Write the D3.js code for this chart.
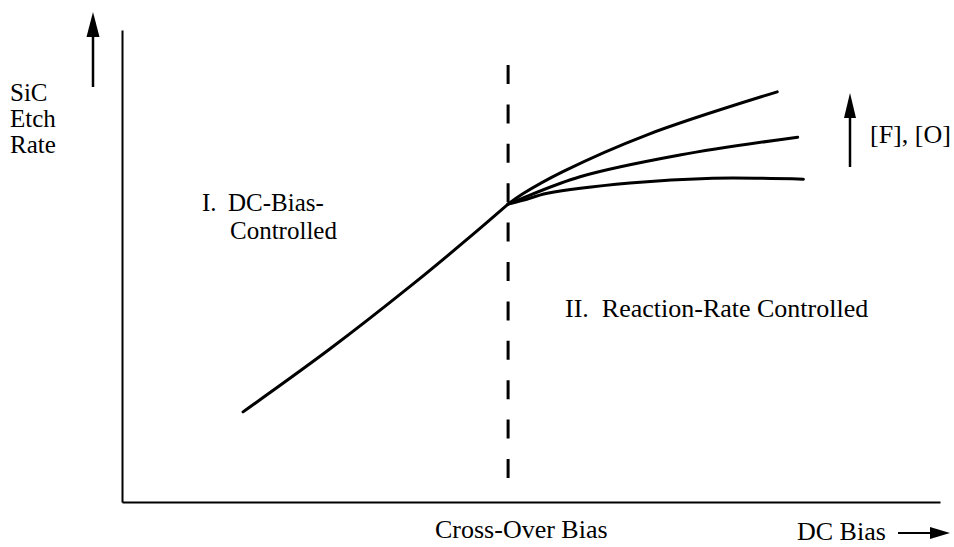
<!DOCTYPE html>
<html>
<head>
<meta charset="utf-8">
<script src="https://cdn.jsdelivr.net/npm/d3@7"></script>
<style>
  html, body { margin: 0; padding: 0; background: #fff; }
  text { font-family: "Liberation Serif", "Times New Roman", serif; fill: #000; }
</style>
</head>
<body>
<svg id="chart" width="954" height="547"></svg>
<script>
// ---- data (abstract units: DC bias 0..100, etch rate 0..100) ----
const crossOverBias = 47.2;
const dcBiasRegionI = [14.8, 25.4, 35.6, 42.5, 47.2];
const etchRegionI   = [19.1, 32.4, 46.2, 56.1, 63.1];
const dcBiasHigh = [47.2, 49.0, 53.9, 64.2, 80.1];
const etchHigh   = [63.1, 65.3, 70.0, 77.8, 86.9];
const dcBiasMid  = [47.2, 49.0, 56.0, 68.2, 82.6];
const etchMid    = [63.1, 64.4, 68.9, 73.5, 77.3];
const dcBiasLow  = [47.2, 49.0, 52.0, 62.1, 72.2, 83.3];
const etchLow    = [63.1, 63.9, 65.4, 67.6, 68.6, 68.4];
const yLabelLines = ["SiC", "Etch", "Rate"];

const svg = d3.select("#chart");
const x = d3.scaleLinear().domain([0, 100]).range([122, 940]);
const y = d3.scaleLinear().domain([0, 100]).range([502, 30]);

// axes (no ticks)
svg.append("g").attr("transform", `translate(0,${y(0)})`)
  .call(d3.axisBottom(x).tickValues([]).tickSizeOuter(0));
svg.append("g").attr("transform", `translate(${x(0)},0)`)
  .call(d3.axisLeft(y).tickValues([]).tickSizeOuter(0));
svg.selectAll(".domain").attr("stroke", "#000").attr("stroke-width", 2);

// dashed cross-over line
svg.append("line")
  .attr("x1", x(crossOverBias)).attr("x2", x(crossOverBias))
  .attr("y1", 65).attr("y2", 478)
  .attr("stroke", "#000").attr("stroke-width", 3)
  .attr("stroke-dasharray", "19,20.4");

// curves
const toPts = (xs, ys) => xs.map((v, i) => [v, ys[i]]);
const line = d3.line().x(d => x(d[0])).y(d => y(d[1])).curve(d3.curveCatmullRom.alpha(0.5));
const series = [
  toPts(dcBiasRegionI, etchRegionI),
  toPts(dcBiasHigh, etchHigh),
  toPts(dcBiasMid, etchMid),
  toPts(dcBiasLow, etchLow)
];
svg.selectAll("path.curve").data(series).join("path")
  .attr("class", "curve")
  .attr("d", line)
  .attr("fill", "none").attr("stroke", "#000")
  .attr("stroke-width", 3).attr("stroke-linecap", "round");

// arrows
function upArrow(cx, yTop, yBottom, headLen, headW) {
  svg.append("line").attr("x1", cx).attr("x2", cx)
    .attr("y1", yTop + headLen - 2).attr("y2", yBottom)
    .attr("stroke", "#000").attr("stroke-width", 2.5);
  svg.append("path")
    .attr("d", `M${cx},${yTop} L${cx - headW / 2},${yTop + headLen} L${cx + headW / 2},${yTop + headLen} Z`)
    .attr("fill", "#000");
}
upArrow(93, 12, 87, 25, 13);
upArrow(850, 93, 167, 25, 12);
// right arrow next to DC Bias
svg.append("line").attr("x1", 898).attr("x2", 935).attr("y1", 533).attr("y2", 533)
  .attr("stroke", "#000").attr("stroke-width", 2);
svg.append("path").attr("d", "M950,533 L930,527 L930,539 Z").attr("fill", "#000");

// texts
const fs = 26;
svg.selectAll("text.ylab").data(yLabelLines).join("text")
  .attr("class", "ylab")
  .attr("x", 10).attr("y", (d, i) => 101 + i * 26)
  .attr("font-size", 25).text(d => d);

svg.append("text").attr("x", 202).attr("y", 211).attr("font-size", 25).text("I.");
svg.append("text").attr("x", 228).attr("y", 211).attr("font-size", 25).text("DC-Bias-");
svg.append("text").attr("x", 230).attr("y", 239).attr("font-size", 25).text("Controlled");
svg.append("text").attr("x", 565).attr("y", 317).attr("font-size", fs)
  .attr("xml:space", "preserve").text("II.  Reaction-Rate Controlled");
svg.append("text").attr("x", 870).attr("y", 143).attr("font-size", fs).text("[F], [O]");
svg.append("text").attr("x", 435).attr("y", 538).attr("font-size", fs).text("Cross-Over Bias");
svg.append("text").attr("x", 797).attr("y", 540).attr("font-size", fs).text("DC Bias");
</script>
</body>
</html>
